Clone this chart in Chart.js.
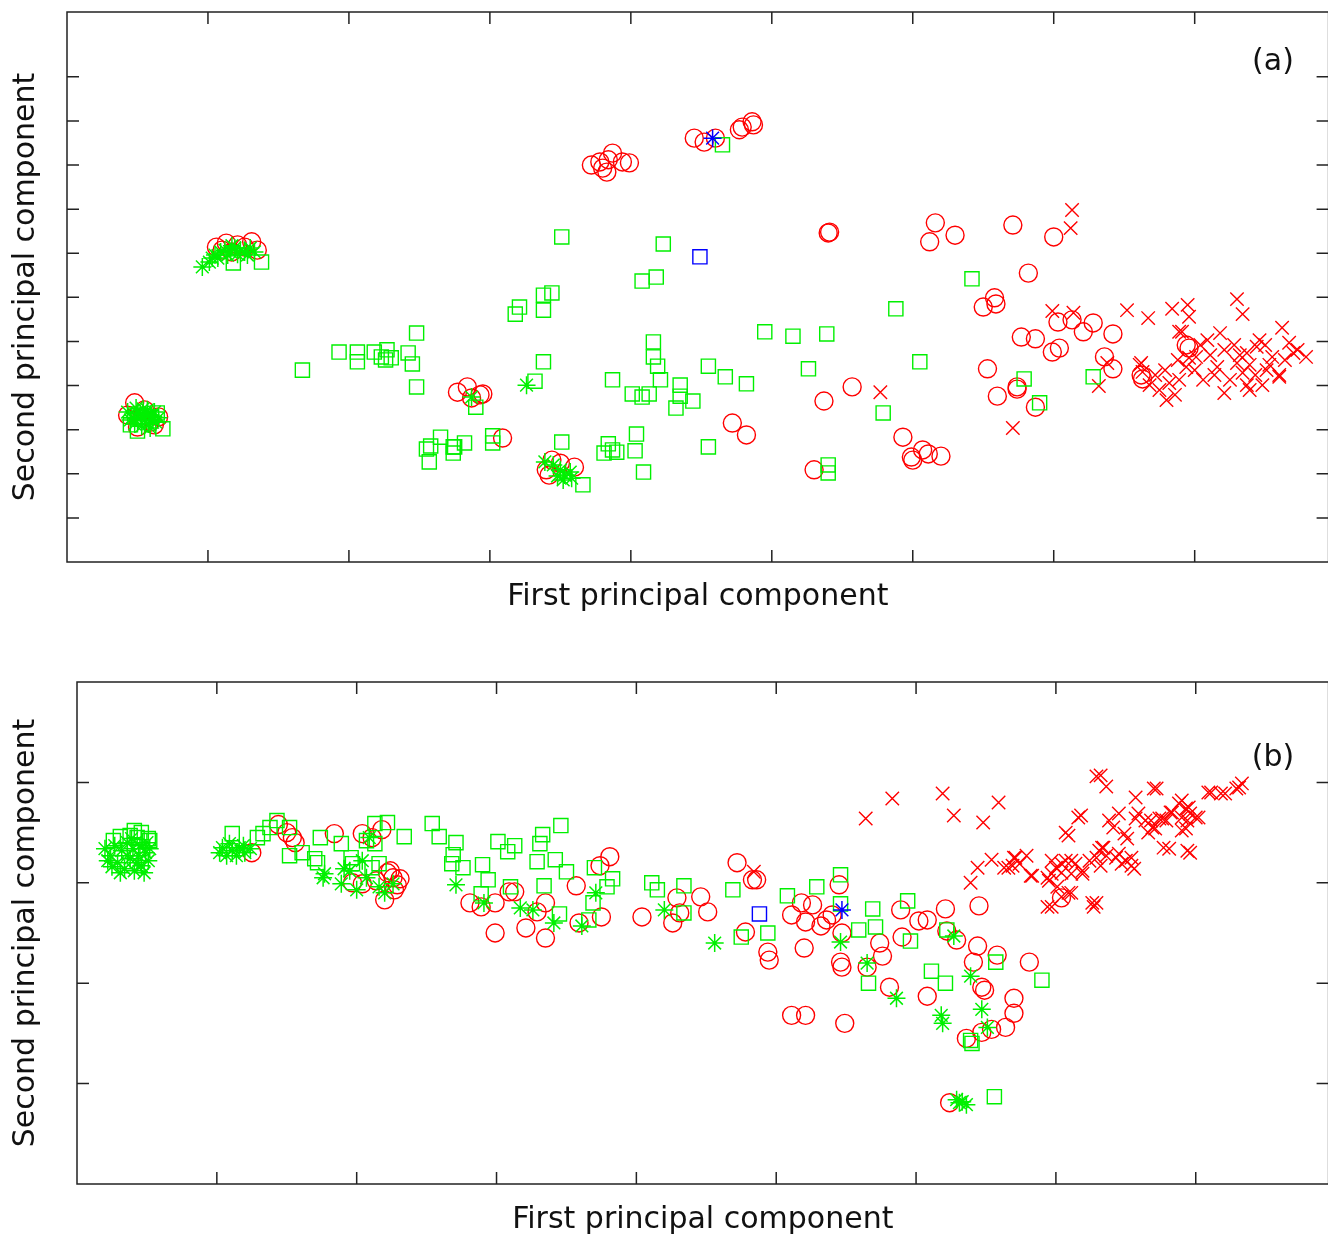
<!DOCTYPE html>
<html><head><meta charset="utf-8">
<script src="https://cdn.jsdelivr.net/npm/chart.js@4.4.1/dist/chart.umd.min.js"></script>
<style>
html,body{margin:0;padding:0;background:#fff;overflow:hidden;width:1328px;height:1237px;}
canvas{position:absolute;left:0;display:block;}
#ca{top:0;}
#cb{top:620px;}
</style></head><body>
<canvas id="ca" width="1340" height="625"></canvas>
<canvas id="cb" width="1340" height="625"></canvas>
<script>
// ===== Panel (a) data (axis units: one tick = 1) =====
const aCircle = [[0.48,3.61],[0.65,3.29],[0.50,3.06],[0.55,3.45],[0.59,3.17],[0.43,3.33],[0.62,3.11],[0.53,3.27],
[1.06,7.14],[1.13,7.23],[1.21,7.19],[1.31,7.26],[1.35,7.07],[1.26,7.14],[1.17,7.03],[1.10,7.07],
[3.72,9.00],[3.80,8.93],[3.83,8.84],[3.87,9.27],[3.94,9.07],[3.99,9.05],[3.78,9.07],[3.84,9.12],
[4.45,9.61],[4.52,9.52],[4.60,9.61],[4.77,9.80],[4.79,9.86],[4.86,9.98],[4.87,9.91],
[5.40,7.46],[5.41,7.48],[6.16,7.69],[6.12,7.26],[6.30,7.41],[6.71,7.64],[7.00,7.37],[6.82,6.55],[6.58,5.99],[6.59,5.85],[6.50,5.78],[7.03,5.44],[7.13,5.49],[7.21,5.22],[7.28,5.42],[7.42,5.17],[6.77,5.10],[6.87,5.06],[6.99,4.76],[7.04,4.85],[7.36,4.65],[7.42,4.38],[6.53,4.38],[5.57,3.97],[5.37,3.65],[6.60,3.76],[6.74,3.97],[6.74,3.92],[6.87,3.51],[7.63,4.15],[7.62,4.24],[7.94,4.92],[7.96,4.85],
[5.93,2.83],[6.07,2.54],[6.00,2.31],[5.99,2.38],[6.11,2.45],[6.20,2.40],[4.72,3.15],[4.82,2.88],[5.30,2.09],
[2.77,3.85],[2.84,3.97],[2.87,3.72],[2.93,3.79],[2.95,3.81],[3.09,2.81],[3.44,2.31],[3.50,2.24],[3.60,2.15],[3.42,1.97],[3.40,2.09]];
const aCross = [[7.13,7.98],[7.12,7.57],[6.99,5.69],[7.14,5.65],[7.52,5.71],[7.67,5.53],[7.84,5.74],[7.95,5.83],[7.96,5.56],[8.30,5.96],[8.34,5.62],[7.89,5.22],[5.77,3.85],[7.32,3.99],[7.38,4.51],[7.62,4.51],[6.71,3.04],[7.61,4.47],[7.63,4.31],[7.80,3.67],[8.21,3.83],[8.37,4.01],[8.62,5.31],[8.79,4.65],[8.70,4.74],[8.60,4.20],[8.51,4.35],[8.37,4.74],[8.18,5.19],[7.91,5.22],[8.09,5.03],[8.01,4.65],[7.94,4.42],[7.82,4.06],[7.89,4.13],[8.30,4.51],[8.44,4.88],[8.46,5.03],[8.67,4.97],[8.73,4.81],[8.55,4.65],[8.16,4.42],[8.34,4.29],[8.06,4.13],[8.25,4.13],[8.39,3.90],[8.60,4.24],
[7.72,4.24],[7.75,3.90],[7.86,3.79],[8.00,4.35],[8.11,4.69],[8.21,4.81],[8.28,4.92],[8.39,4.47],[8.50,4.92],[8.53,4.47],[8.64,4.58],[8.04,4.92],[7.96,4.63],[8.14,4.24],[8.32,4.69],[8.43,4.24],[7.79,4.35],[7.68,4.01],[7.88,4.58],[8.48,4.01]];
const aSquare = [[0.45,3.11],[0.50,2.97],[0.68,3.02],[0.64,3.38],[1.18,6.78],[1.38,6.80],[4.65,9.46],
[3.51,7.37],[4.23,7.21],[4.08,6.37],[4.18,6.46],[3.18,5.62],[3.21,5.78],[3.38,6.05],[3.44,6.10],[3.38,5.71],[2.48,5.19],[4.16,4.99],[4.95,5.22],[5.15,5.12],[5.39,5.17],
[6.42,6.42],[5.88,5.74],[5.26,4.38],[6.05,4.54],[6.79,4.15],[7.28,4.20],[6.90,3.61],[5.79,3.38],
[3.38,4.54],[3.32,4.10],[3.87,4.13],[4.01,3.81],[4.08,3.74],[4.13,3.81],[4.16,4.65],[4.19,4.44],[4.21,4.13],[4.35,4.01],[4.35,3.76],[4.44,3.65],[4.32,3.49],[4.55,4.44],[4.67,4.20],[4.82,4.04],
[2.90,3.51],[2.75,2.61],[2.82,2.70],[3.02,2.86],[3.02,2.70],[3.51,2.72],[3.84,2.68],[3.87,2.54],[3.81,2.47],[3.90,2.49],[4.04,2.90],[4.03,2.52],[4.09,2.04],[4.55,2.61],[5.40,2.20],[5.40,2.02],[3.66,1.75],
[1.67,4.35],[1.93,4.76],[2.06,4.76],[2.06,4.54],[2.18,4.76],[2.23,4.65],[2.27,4.81],[2.30,4.63],[2.26,4.58],[2.42,4.74],[2.45,4.49],[2.48,3.97],[2.55,2.56],[2.58,2.63],[2.57,2.27],[2.65,2.83],[2.74,2.61],[2.74,2.47]];
const aStar = [[0.43,3.40],[0.46,3.27],[0.49,3.49],[0.52,3.36],[0.55,3.22],[0.57,3.45],[0.60,3.31],[0.63,3.17],[0.48,3.13],[0.53,3.08],[0.59,3.04],[0.50,3.27],[0.56,3.33],[0.62,3.40],[0.45,3.22],[0.65,3.27],[0.54,3.47],[0.58,3.13],[0.50,3.38],[0.61,3.22],
[0.96,6.69],[1.01,6.80],[1.05,6.96],[1.09,7.03],[1.12,7.07],[1.16,7.03],[1.19,7.12],[1.23,7.07],[1.26,7.03],[1.30,7.12],[1.07,6.89],[1.14,6.96],[1.21,6.98],[1.28,6.96],[1.33,7.03],[1.03,6.89],[1.17,7.17],
[2.87,3.74],[3.26,4.01],
[3.39,2.27],[3.45,2.20],[3.50,2.09],[3.53,1.97],[3.58,1.90],[3.52,1.86],[3.57,2.04],[3.48,1.95]];
const aBlueSquare = [[4.49,6.92]];
const aBlueStar = [[4.58,9.61]];

// ===== Panel (b) data =====
const bCircle = [[1.25,3.30],[1.44,3.58],[1.50,3.50],[1.54,3.45],[1.56,3.40],[1.84,3.49],[2.04,3.49],[2.11,3.45],[2.18,3.53],[2.24,3.12],[2.26,3.05],[2.31,3.04],[2.27,2.93],[2.20,2.83],[1.97,3.00],[2.04,2.99],[2.14,3.02],[2.22,3.10],[2.29,2.98],
[2.81,2.80],[2.89,2.76],[2.99,2.80],[3.09,2.91],[2.99,2.50],[3.13,2.91],[3.21,2.55],[3.29,2.71],[3.35,2.80],[3.35,2.45],[3.57,2.97],[3.59,2.60],[3.74,3.17],[3.81,3.26],[3.75,2.66],[4.04,2.66],[4.26,2.60],[4.29,2.85],[4.31,2.70],[4.46,2.86],[4.51,2.71],[4.72,3.20],[4.83,3.03],[4.86,3.03],[4.78,2.51],[4.94,2.31],[4.95,2.23],
[5.11,2.68],[5.18,2.80],[5.26,2.78],[5.21,2.61],[5.20,2.35],[5.32,2.57],[5.36,2.63],[5.40,2.68],[5.45,2.98],[5.47,2.50],[5.46,2.21],[5.47,2.16],[5.21,1.68],[5.11,1.68],[5.49,1.60],
[5.65,2.16],[5.74,2.40],[5.76,2.27],[5.89,2.73],[5.90,2.46],[6.02,2.62],[6.08,2.63],[6.21,2.74],[6.22,2.52],[6.29,2.43],[6.45,2.77],[6.44,2.37],[6.41,2.21],[6.58,2.28],[6.47,1.96],[6.49,1.93],[5.81,1.96],[6.08,1.87],[6.81,2.21],[6.70,1.85],[6.70,1.70],[6.64,1.56],[6.54,1.54],[6.47,1.51],[6.36,1.45],[7.04,2.85],[6.24,0.81]];
const bCross = [[5.64,3.64],[5.83,3.84],[6.19,3.89],[6.27,3.67],[6.48,3.60],[6.59,3.80],[7.29,4.06],[7.36,3.96],[7.70,3.94],[7.57,3.85],[8.09,3.90],[8.18,3.89],[8.29,3.94],[8.33,3.99],[4.84,3.11],
[6.39,3.00],[6.44,3.15],[6.54,3.23],[6.63,3.15],[6.71,3.25],[6.79,3.27],[6.82,3.07],[6.69,3.17],[6.95,3.02],[6.97,3.09],[6.94,2.76],[7.04,3.19],[7.07,3.50],[7.09,3.47],[7.16,3.65],[7.18,3.67],[7.14,3.19],[7.19,3.12],[7.24,3.22],[7.26,2.80],[7.27,2.76],[7.31,3.32],[7.32,3.17],[7.34,3.35],[7.38,3.62],[7.41,3.55],[7.45,3.69],[7.49,3.49],[7.51,3.44],[7.54,3.25],[7.54,3.17],[7.47,3.19],[7.43,3.25],[7.59,3.69],[7.64,3.62],[7.69,3.55],[7.66,3.50],[7.76,3.64],[7.79,3.62],[7.83,3.70],[7.88,3.79],[7.90,3.82],[7.93,3.74],[7.90,3.65],[7.94,3.62],[7.96,3.69],[8.00,3.65],[7.90,3.52],[7.77,3.35],[7.81,3.34],[7.94,3.32],[7.00,3.15],[6.97,3.22],[7.07,3.22],[7.11,3.22],[7.36,3.27],[7.04,2.86],[7.09,2.90],
[6.70,3.25],[6.66,3.15],[6.74,3.19],[6.83,3.07],[6.94,3.05],[7.04,3.10],[7.11,3.09],[7.19,3.09],[7.29,3.25],[7.33,3.35],[7.45,3.29],[7.50,3.22],[7.56,3.14],[7.57,3.64],[7.68,3.62],[7.71,3.54],[7.74,3.64],[7.82,3.70],[7.95,3.75],[8.02,3.65],[7.93,3.54],[7.96,3.30],[8.11,3.90],[8.21,3.89],[8.31,3.95],[7.11,2.90],[7.01,2.96],[7.29,2.80],[6.97,2.76],[7.72,3.94],[7.32,4.07]];
const bSquare = [[0.26,3.42],[0.31,3.46],[0.38,3.47],[0.41,3.52],[0.46,3.50],[0.51,3.44],[0.52,3.42],[0.43,3.45],
[1.11,3.49],[1.29,3.45],[1.33,3.49],[1.38,3.55],[1.43,3.62],[1.52,3.55],[1.52,3.27],[1.61,3.30],[1.70,3.24],[1.72,3.20],[1.74,3.45],[1.89,3.39],[1.96,3.25],[1.97,3.19],[2.13,3.59],[2.22,3.60],[2.34,3.46],[2.07,3.42],[2.13,3.39],[2.11,3.15],[2.16,3.19],
[2.54,3.59],[2.59,3.46],[2.71,3.40],[2.69,3.28],[2.68,3.19],[2.76,3.15],[2.90,3.18],[2.94,3.03],[2.89,2.89],[3.01,3.41],[3.13,3.37],[3.08,3.31],[3.31,3.39],[3.33,3.48],[3.46,3.57],[3.29,3.21],[3.42,3.23],[3.50,3.11],[3.10,2.96],[3.34,2.97],[3.45,2.69],[3.66,2.63],[3.69,2.80],[3.70,3.15],[3.79,2.96],[3.83,3.04],[4.11,3.00],[4.15,2.93],[4.34,2.97],[4.34,2.70],[4.69,2.93],[4.75,2.46],[4.94,2.50],[5.08,2.87],[5.29,2.96],[5.46,3.08],[5.46,2.79],
[5.69,2.74],[5.94,2.82],[5.59,2.53],[5.71,2.56],[5.96,2.42],[5.66,2.00],[6.11,2.12],[6.21,2.00],[6.22,2.53],[6.57,2.21],[6.90,2.03],[6.39,1.43],[6.40,1.40],[6.56,0.87]];
const bStar = [[0.20,3.34],[0.24,3.27],[0.27,3.37],[0.29,3.20],[0.32,3.32],[0.34,3.14],[0.36,3.40],[0.38,3.24],[0.40,3.34],[0.41,3.12],[0.44,3.27],[0.45,3.37],[0.46,3.17],[0.49,3.30],[0.51,3.22],[0.52,3.34],[0.25,3.16],[0.31,3.10],[0.36,3.27],[0.43,3.20],[0.48,3.10],[0.39,3.44],[0.50,3.40],[0.22,3.22],
[1.04,3.35],[1.07,3.27],[1.11,3.32],[1.16,3.35],[1.20,3.30],[1.24,3.34],[1.09,3.39],[1.14,3.27],[1.19,3.37],[1.02,3.30],
[1.77,3.09],[1.76,3.05],[1.89,2.99],[2.00,2.93],[2.04,3.22],[2.09,3.45],[2.16,2.96],[2.20,2.90],[2.26,2.99],[2.07,3.05],[1.95,3.12],[1.91,3.14],
[2.71,2.98],[2.91,2.80],[3.17,2.75],[3.26,2.73],[3.41,2.60],[3.61,2.57],[3.71,2.90],[4.20,2.73],[4.56,2.40],[5.46,2.41],[5.65,2.20],[5.86,1.85],[6.18,1.68],[6.19,1.60],[6.27,2.47],[6.39,2.07],[6.47,1.74],[6.51,1.56],[6.29,0.84],[6.33,0.82],[6.36,0.79],[6.31,0.81]];
const bBlueSquare = [[4.88,2.69]];
const bBlueStar = [[5.47,2.73]];

// axis ranges (tick units) and highest tick mark drawn
const aXRange = [0, 8.95], aYRange = [0, 12.47], aTickMax = {x: 8, y: 11};
const bXRange = [0, 8.95], bYRange = [0, 5], bTickMax = {x: 8, y: 4};
const xTitle = 'First principal component';
const yTitle = 'Second principal component';

const RED = 'rgb(255,0,0)', GREEN = 'rgb(0,240,0)', BLUE = 'rgb(0,0,255)';
const toXY = arr => arr.map(p => ({x: p[0], y: p[1]}));

function ds(data, style, color, radius, order, lw) {
  return { data: toXY(data), pointStyle: style, pointRadius: radius, borderColor: color,
    backgroundColor: 'rgba(0,0,0,0)', pointBorderWidth: lw || 1.4, borderWidth: lw || 1.4, showLine: false, order: order };
}

const framePlugin = {
  id: 'frame',
  afterDraw(chart, args, opts) {
    const {ctx, chartArea: a, scales: {x, y}} = chart;
    ctx.save();
    ctx.strokeStyle = '#222';
    ctx.lineWidth = 1.5;
    ctx.strokeRect(a.left, a.top, a.right - a.left, a.bottom - a.top);
    const L = 12;
    ctx.beginPath();
    for (let v = Math.floor(x.min) + 1; v <= opts.tickMax.x; v++) {
      const px = x.getPixelForValue(v);
      ctx.moveTo(px, a.bottom); ctx.lineTo(px, a.bottom - L);
      ctx.moveTo(px, a.top); ctx.lineTo(px, a.top + L);
    }
    for (let v = Math.floor(y.min) + 1; v <= opts.tickMax.y; v++) {
      const py = y.getPixelForValue(v);
      ctx.moveTo(a.left, py); ctx.lineTo(a.left + L, py);
      ctx.moveTo(a.right, py); ctx.lineTo(a.right - L, py);
    }
    ctx.stroke();
    ctx.fillStyle = '#111';
    ctx.font = '30px "DejaVu Sans"';
    ctx.textAlign = 'center';
    ctx.textBaseline = 'middle';
    ctx.fillText(opts.label, opts.lx, opts.ly);
    ctx.restore();
  }
};

function makeChart(id, sets, xr, yr, tickMax, leftW, bottomH, padTop, padRight, xTitlePad, label, lx, ly) {
  const font = {family: 'DejaVu Sans', size: 30, lineHeight: 1.2};
  return new Chart(document.getElementById(id), {
    type: 'scatter',
    data: { datasets: sets },
    options: {
      responsive: false, devicePixelRatio: 1, animation: false, events: [],
      layout: { padding: {left: 0, top: padTop, right: padRight, bottom: 0} },
      plugins: { legend: {display: false}, tooltip: {enabled: false},
        frame: {label: label, lx: lx, ly: ly, tickMax: tickMax} },
      scales: {
        x: { type: 'linear', position: 'bottom', min: xr[0], max: xr[1],
          grid: {display: false}, border: {display: false}, ticks: {display: false, stepSize: 1},
          title: {display: true, text: xTitle, color: '#111', font: font, padding: {top: 4, bottom: xTitlePad}},
          afterFit(s) { s.height = bottomH; } },
        y: { type: 'linear', position: 'left', min: yr[0], max: yr[1],
          grid: {display: false}, border: {display: false}, ticks: {display: false, stepSize: 1},
          title: {display: true, text: yTitle, color: '#111', font: font, padding: {top: 8, bottom: 4}},
          afterFit(s) { s.width = leftW; } }
      }
    },
    plugins: [framePlugin]
  });
}

Chart.defaults.font.family = 'DejaVu Sans';

makeChart('ca', [
  ds(aBlueStar, 'star', BLUE, 9, 0, 1.5),
  ds(aBlueSquare, 'rect', BLUE, 10, 0),
  ds(aStar, 'star', GREEN, 9, 1, 1.5),
  ds(aSquare, 'rect', GREEN, 10, 2),
  ds(aCross, 'crossRot', RED, 9.5, 3),
  ds(aCircle, 'circle', RED, 9, 4)
], aXRange, aYRange, aTickMax, 67, 63, 12, 11, 9.5, '(a)', 1273, 62);

makeChart('cb', [
  ds(bBlueStar, 'star', BLUE, 9, 0, 1.5),
  ds(bBlueSquare, 'rect', BLUE, 10, 0),
  ds(bStar, 'star', GREEN, 9, 1, 1.5),
  ds(bSquare, 'rect', GREEN, 10, 2),
  ds(bCross, 'crossRot', RED, 9.5, 3),
  ds(bCircle, 'circle', RED, 9, 4)
], bXRange, bYRange, bTickMax, 77, 61, 62, 10, 7, '(b)', 1273, 138);
</script></body></html>
